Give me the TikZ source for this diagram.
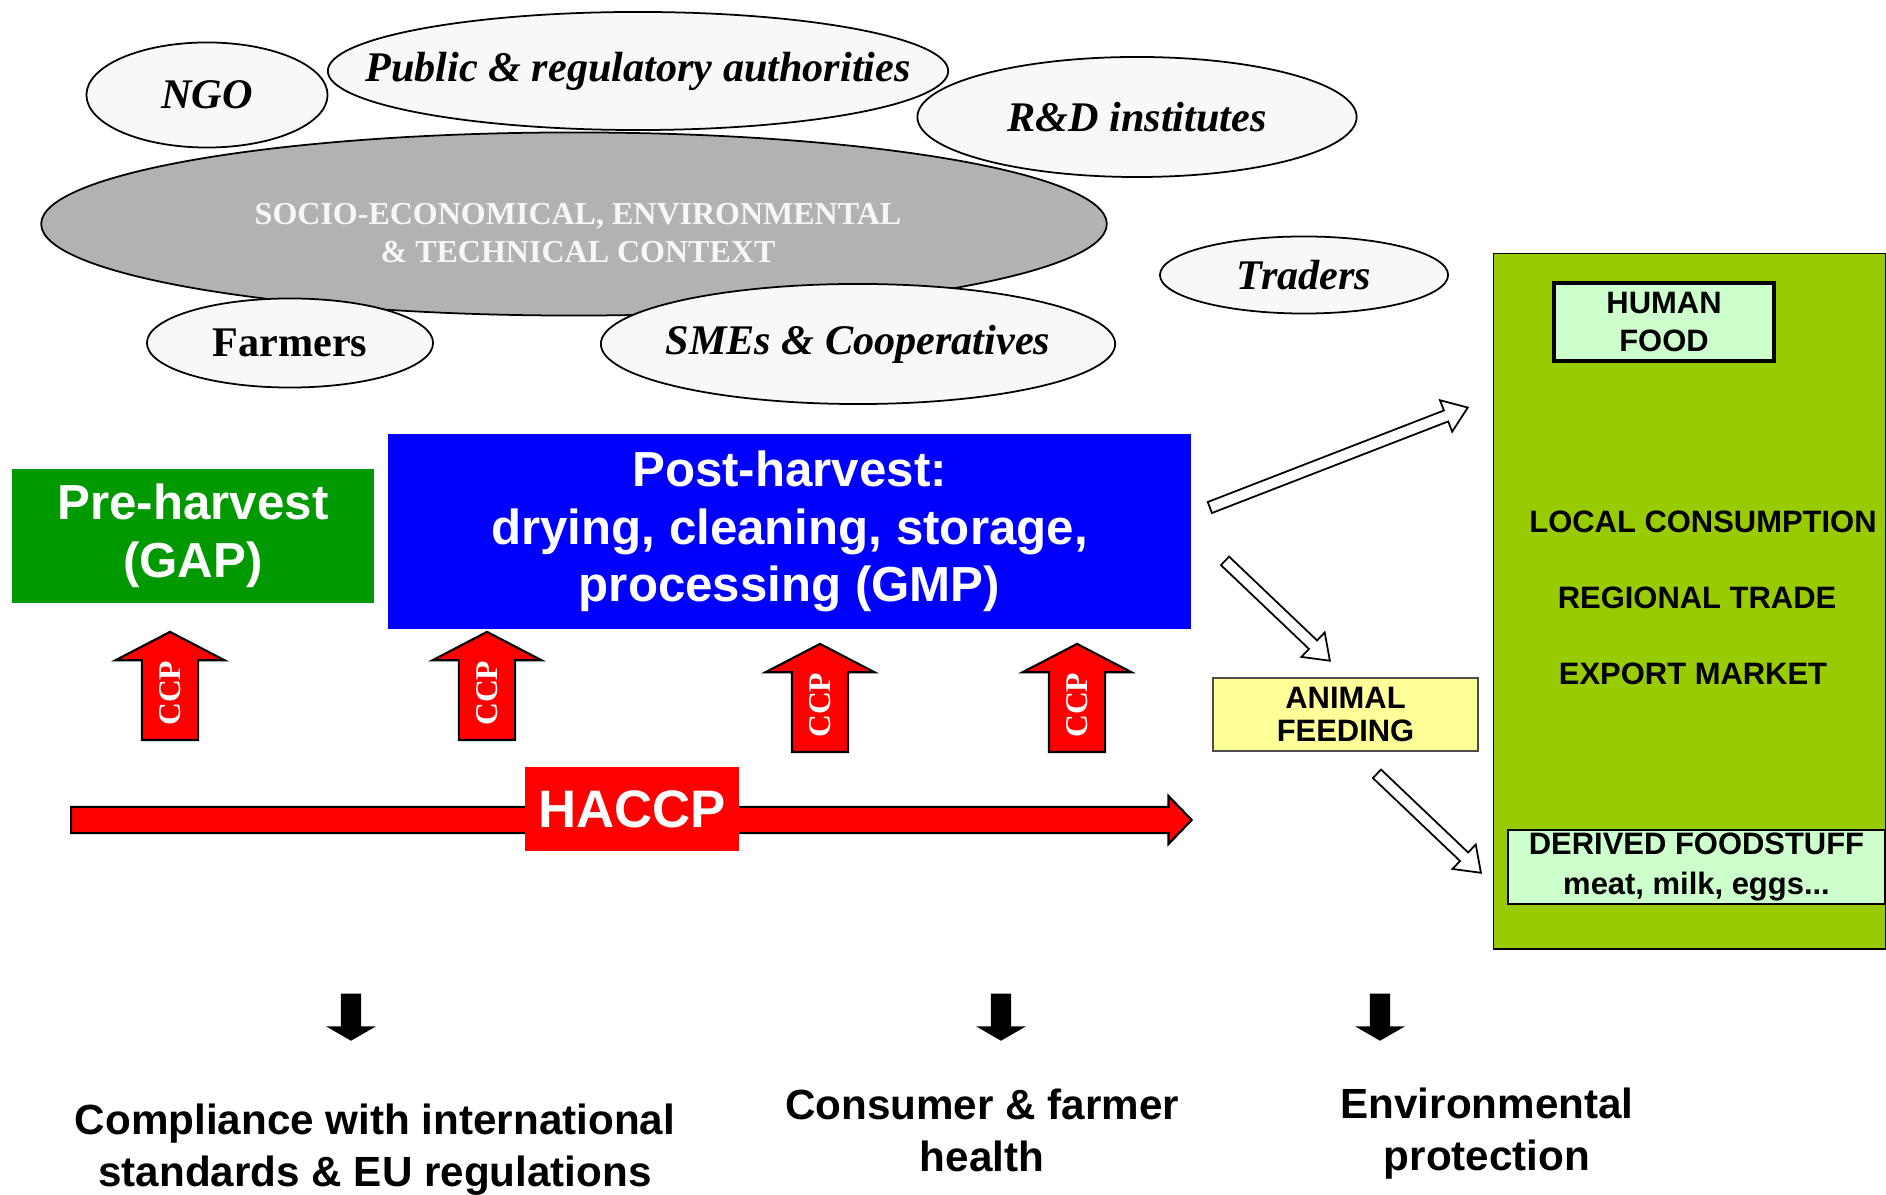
\documentclass[tikz,border=0pt]{standalone}
\usepackage{fontspec}
\setmainfont{Liberation Serif}
\newfontfamily\arialfont{Liberation Sans}
\usetikzlibrary{shapes.geometric,shapes.arrows,calc}
\definecolor{ellgray}{RGB}{248,248,248}
\definecolor{ctxgray}{RGB}{178,178,178}
\definecolor{gapgreen}{RGB}{0,153,0}
\definecolor{gmpblue}{RGB}{0,0,255}
\definecolor{marketgreen}{RGB}{153,204,0}
\definecolor{palegreen}{RGB}{204,255,204}
\definecolor{paleyellow}{RGB}{255,255,153}

\begin{document}
\begin{tikzpicture}[x=0.01cm, y=-0.01cm]
        \tikzset{actor/.style={ellipse, draw, fill=ellgray, line width=0.5pt,
                inner xsep=-0.6cm, inner ysep=0pt,
                font=\fontsize{12}{14}\selectfont\bfseries\itshape},
            stage/.style={inner sep=0pt, text=white, align=center,
                font=\arialfont\fontsize{14}{16.4}\selectfont\bfseries},
            ccp/.style={single arrow, rotate=90, anchor=tail, draw, fill=red, text=white,
                line width=0.6pt, minimum height=1.08cm, text height=2.1mm, text depth=0mm,
                inner xsep=0pt, inner ysep=1.65mm, single arrow head extend=2.65mm,
                single arrow tip angle=125, single arrow head indent=0pt,
                font=\fontsize{9}{9}\selectfont\bfseries},
            haccpline/.style={single arrow, anchor=tail, draw, fill=red, line width=0.6pt,
                minimum height=11.2cm, inner xsep=0pt, inner ysep=1.2mm,
                single arrow head extend=1.1mm, single arrow tip angle=92,
                single arrow head indent=0pt},
            hollow/.style={single arrow, draw, fill=white, line width=0.5pt,
                inner xsep=0pt, inner ysep=0.5mm, single arrow head extend=1.1mm,
                single arrow tip angle=72, single arrow head indent=0pt},
            outcome/.style={single arrow, rotate=-90, anchor=tail, fill=black,
                minimum height=0.47cm, inner xsep=0pt, inner ysep=0.95mm,
                single arrow head extend=1.45mm, single arrow tip angle=120,
                single arrow head indent=0pt},
            market/.style={align=center, inner sep=0pt,
                font=\arialfont\fontsize{8.8}{11}\selectfont\bfseries},
            goal/.style={align=center,
                font=\arialfont\fontsize{12}{14.8}\selectfont\bfseries}}
        \useasboundingbox (0,0) rectangle (1886,1195);

        \node[actor, fill=ctxgray, minimum width=10.65cm, minimum height=1.83cm] (context) at (574,224) {};
        \node[text=white!94!gray, align=center, font=\fontsize{9.1}{11}\selectfont\bfseries]
            (contexttext) at (578,233) {SOCIO-ECONOMICAL, ENVIRONMENTAL\\\& TECHNICAL CONTEXT};
        \node[actor, minimum width=2.41cm, minimum height=1.05cm] (ngo) at (207,95) {NGO};
        \node[actor, minimum width=6.2cm, minimum height=1.18cm] (public) at (638,71)
            {Public \& regulatory authorities};
        \node[actor, minimum width=4.39cm, minimum height=1.2cm] (rnd) at (1137,117) {R\&D institutes};
        \node[actor, minimum width=2.86cm, minimum height=0.89cm,
            font=\fontsize{12}{14}\selectfont\bfseries] (farmers) at (290,343) {Farmers};
        \node[actor, minimum width=5.14cm, minimum height=1.2cm] (smes) at (858,344) {SMEs \& Cooperatives};
        \node[actor, minimum width=2.88cm, minimum height=0.77cm] (traders) at (1304,275) {Traders};

        \node[stage, fill=gapgreen, minimum width=3.62cm, minimum height=1.34cm] (pre) at (193,536)
            {Pre-harvest\\(GAP)};
        \node[stage, fill=gmpblue, minimum width=8.03cm, minimum height=1.95cm] (post) at (789.5,531.5)
            {Post-harvest:\\drying, cleaning, storage,\\processing (GMP)};

        \foreach \x/\y [count=\i] in {170/741, 487/741, 820/753, 1077/753}
            \node[ccp] (ccp\i) at (\x,\y) {CCP};

        \node[haccpline] (haccpline) at (70,820) {};
        \node[fill=red, text=white, minimum width=2.14cm, minimum height=0.84cm,
            font=\arialfont\fontsize{15}{17}\selectfont\bfseries] (haccp) at (632,809) {HACCP};

        \node[draw, fill=marketgreen, minimum width=3.92cm, minimum height=6.95cm,
            anchor=north west, inner sep=0pt] (market) at (1493,253) {};
        \node[market, draw, line width=1pt, fill=palegreen, minimum width=2.2cm,
            minimum height=0.78cm] (food) at (1664,322) {HUMAN\\FOOD};
        \node[market] (local) at (1703,522) {LOCAL CONSUMPTION};
        \node[market] (regional) at (1697,598) {REGIONAL TRADE};
        \node[market] (export) at (1693,674) {EXPORT MARKET};
        \node[market, draw, fill=palegreen, minimum width=3.77cm, minimum height=0.74cm,
            font=\arialfont\fontsize{8.8}{11.6}\selectfont\bfseries]
            (derived) at (1696.5,867) {DERIVED FOODSTUFF\\meat, milk, eggs...};
        \node[market, draw=black!70, fill=paleyellow, minimum width=2.65cm, minimum height=0.73cm,
            font=\arialfont\fontsize{8.8}{9.4}\selectfont\bfseries] (feed) at (1345.5,714.5)
            {ANIMAL\\FEEDING};

        \coordinate (foodA) at (1206,509);
        \coordinate (foodB) at (1464,409);
        \coordinate (feedA) at (1222,558);
        \coordinate (feedB) at (1327,658);
        \coordinate (derivA) at (1374,771);
        \coordinate (derivB) at (1478,870);
        \foreach \a/\b in {foodA/foodB, feedA/feedB, derivA/derivB}
            \path let \p1=($(\b)-(\a)$), \n1={veclen(\x1,\y1)} in
                (\a) -- (\b) node[hollow, midway, sloped, minimum height=\n1] {};

        \foreach \x [count=\i] in {351, 1001, 1380}
            \node[outcome] (down\i) at (\x,993) {};

        \node[goal] (comply) at (375,1150) {Compliance with international\\standards \& EU regulations};
        \node[goal] (health) at (982,1130) {Consumer \& farmer\\health};
        \node[goal] (environ) at (1487,1134) {Environmental\\protection};
\end{tikzpicture}
\end{document}
